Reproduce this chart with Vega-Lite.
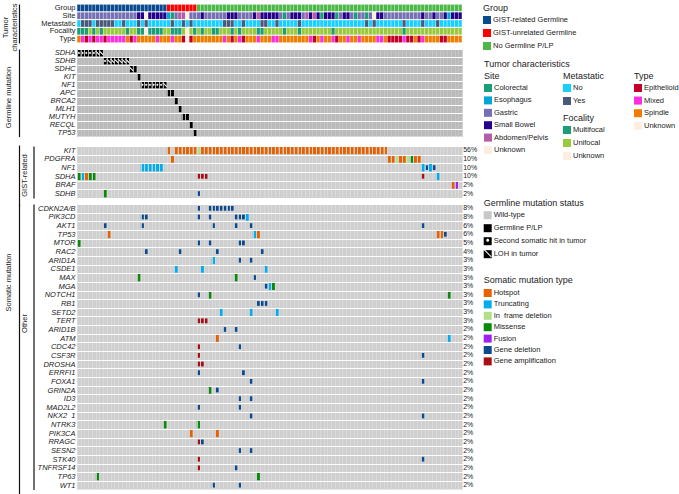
{"$schema":"https://vega.github.io/schema/vega-lite/v6.json","padding":{"left":1,"top":3,"right":0,"bottom":0},"background":"white","spacing":2.5,"bounds":"flush","resolve":{"scale":{"color":"independent","shape":"independent"},"legend":{"color":"independent","shape":"independent"}},"config":{"font":"Liberation Sans","view":{"stroke":null},"text":{"font":"Liberation Sans"},"axis":{"labelFont":"Liberation Sans","titleFont":"Liberation Sans","titleFontWeight":"normal","titleFontSize":7.5,"labelFontSize":7.5,"labelColor":"#222","titleColor":"#222"},"legend":{"orient":"none","symbolType":"square","symbolStrokeWidth":0,"symbolSize":64,"titleFontWeight":"normal","titleFontSize":9,"titleColor":"#222","labelColor":"#222","labelFontSize":7.5,"titleFont":"Liberation Sans","labelFont":"Liberation Sans","titlePadding":3,"labelLimit":200,"titleLimit":200,"labelOffset":2,"symbolOpacity":1}},
"datasets":{
"samples":[
{"s":0,"Group":"GIST-related Germline","Site":"Gastric","Metastatic":"No","Focality":"Multifocal","Type":"Spindle"},
{"s":1,"Group":"GIST-related Germline","Site":"Gastric","Metastatic":"Yes","Focality":"Multifocal","Type":"Mixed"},
{"s":2,"Group":"GIST-related Germline","Site":"Gastric","Metastatic":"Yes","Focality":"Multifocal","Type":"Epithelioid"},
{"s":3,"Group":"GIST-related Germline","Site":"Gastric","Metastatic":"Yes","Focality":"Unifocal","Type":"Mixed"},
{"s":4,"Group":"GIST-related Germline","Site":"Gastric","Metastatic":"No","Focality":"Multifocal","Type":"Epithelioid"},
{"s":5,"Group":"GIST-related Germline","Site":"Gastric","Metastatic":"Yes","Focality":"Unifocal","Type":"Mixed"},
{"s":6,"Group":"GIST-related Germline","Site":"Gastric","Metastatic":"Yes","Focality":"Multifocal","Type":"Mixed"},
{"s":7,"Group":"GIST-related Germline","Site":"Gastric","Metastatic":"Yes","Focality":"Unifocal","Type":"Epithelioid"},
{"s":8,"Group":"GIST-related Germline","Site":"Gastric","Metastatic":"Yes","Focality":"Unifocal","Type":"Mixed"},
{"s":9,"Group":"GIST-related Germline","Site":"Gastric","Metastatic":"Yes","Focality":"Unifocal","Type":"Mixed"},
{"s":10,"Group":"GIST-related Germline","Site":"Gastric","Metastatic":"No","Focality":"Unifocal","Type":"Mixed"},
{"s":11,"Group":"GIST-related Germline","Site":"Gastric","Metastatic":"No","Focality":"Unifocal","Type":"Mixed"},
{"s":12,"Group":"GIST-related Germline","Site":"Gastric","Metastatic":"Yes","Focality":"Unifocal","Type":"Mixed"},
{"s":13,"Group":"GIST-related Germline","Site":"Gastric","Metastatic":"No","Focality":"Multifocal","Type":"Spindle"},
{"s":14,"Group":"GIST-related Germline","Site":"Gastric","Metastatic":"No","Focality":"Unifocal","Type":"Epithelioid"},
{"s":15,"Group":"GIST-related Germline","Site":"Gastric","Metastatic":"No","Focality":"Unifocal","Type":"Mixed"},
{"s":16,"Group":"GIST-related Germline","Site":"Small Bowel","Metastatic":"Yes","Focality":"Multifocal","Type":"Spindle"},
{"s":17,"Group":"GIST-related Germline","Site":"Small Bowel","Metastatic":"No","Focality":"Multifocal","Type":"Spindle"},
{"s":18,"Group":"GIST-related Germline","Site":"Unknown","Metastatic":"Yes","Focality":"Unknown","Type":"Spindle"},
{"s":19,"Group":"GIST-related Germline","Site":"Small Bowel","Metastatic":"No","Focality":"Multifocal","Type":"Spindle"},
{"s":20,"Group":"GIST-related Germline","Site":"Small Bowel","Metastatic":"No","Focality":"Multifocal","Type":"Spindle"},
{"s":21,"Group":"GIST-related Germline","Site":"Small Bowel","Metastatic":"No","Focality":"Multifocal","Type":"Mixed"},
{"s":22,"Group":"GIST-related Germline","Site":"Small Bowel","Metastatic":"No","Focality":"Multifocal","Type":"Spindle"},
{"s":23,"Group":"GIST-related Germline","Site":"Small Bowel","Metastatic":"No","Focality":"Unifocal","Type":"Spindle"},
{"s":24,"Group":"GIST-unrelated Germline","Site":"Esophagus","Metastatic":"No","Focality":"Unifocal","Type":"Spindle"},
{"s":25,"Group":"GIST-unrelated Germline","Site":"Colorectal","Metastatic":"Yes","Focality":"Multifocal","Type":"Mixed"},
{"s":26,"Group":"GIST-unrelated Germline","Site":"Gastric","Metastatic":"No","Focality":"Multifocal","Type":"Spindle"},
{"s":27,"Group":"GIST-unrelated Germline","Site":"Abdomen/Pelvis","Metastatic":"No","Focality":"Multifocal","Type":"Spindle"},
{"s":28,"Group":"GIST-unrelated Germline","Site":"Abdomen/Pelvis","Metastatic":"Yes","Focality":"Unifocal","Type":"Epithelioid"},
{"s":29,"Group":"GIST-unrelated Germline","Site":"Unknown","Metastatic":"No","Focality":"Unknown","Type":"Unknown"},
{"s":30,"Group":"GIST-unrelated Germline","Site":"Gastric","Metastatic":"Yes","Focality":"Unifocal","Type":"Epithelioid"},
{"s":31,"Group":"GIST-unrelated Germline","Site":"Gastric","Metastatic":"No","Focality":"Multifocal","Type":"Spindle"},
{"s":32,"Group":"No Germline P/LP","Site":"Gastric","Metastatic":"No","Focality":"Unifocal","Type":"Spindle"},
{"s":33,"Group":"No Germline P/LP","Site":"Small Bowel","Metastatic":"No","Focality":"Multifocal","Type":"Spindle"},
{"s":34,"Group":"No Germline P/LP","Site":"Gastric","Metastatic":"No","Focality":"Unifocal","Type":"Spindle"},
{"s":35,"Group":"No Germline P/LP","Site":"Gastric","Metastatic":"No","Focality":"Unifocal","Type":"Spindle"},
{"s":36,"Group":"No Germline P/LP","Site":"Gastric","Metastatic":"No","Focality":"Multifocal","Type":"Spindle"},
{"s":37,"Group":"No Germline P/LP","Site":"Gastric","Metastatic":"No","Focality":"Multifocal","Type":"Spindle"},
{"s":38,"Group":"No Germline P/LP","Site":"Gastric","Metastatic":"No","Focality":"Unifocal","Type":"Spindle"},
{"s":39,"Group":"No Germline P/LP","Site":"Gastric","Metastatic":"Yes","Focality":"Unifocal","Type":"Mixed"},
{"s":40,"Group":"No Germline P/LP","Site":"Small Bowel","Metastatic":"Yes","Focality":"Unifocal","Type":"Spindle"},
{"s":41,"Group":"No Germline P/LP","Site":"Small Bowel","Metastatic":"Yes","Focality":"Multifocal","Type":"Epithelioid"},
{"s":42,"Group":"No Germline P/LP","Site":"Small Bowel","Metastatic":"No","Focality":"Unifocal","Type":"Spindle"},
{"s":43,"Group":"No Germline P/LP","Site":"Gastric","Metastatic":"No","Focality":"Multifocal","Type":"Mixed"},
{"s":44,"Group":"No Germline P/LP","Site":"Gastric","Metastatic":"Yes","Focality":"Unifocal","Type":"Epithelioid"},
{"s":45,"Group":"No Germline P/LP","Site":"Gastric","Metastatic":"No","Focality":"Unifocal","Type":"Spindle"},
{"s":46,"Group":"No Germline P/LP","Site":"Gastric","Metastatic":"No","Focality":"Unifocal","Type":"Spindle"},
{"s":47,"Group":"No Germline P/LP","Site":"Small Bowel","Metastatic":"No","Focality":"Unifocal","Type":"Spindle"},
{"s":48,"Group":"No Germline P/LP","Site":"Abdomen/Pelvis","Metastatic":"No","Focality":"Multifocal","Type":"Mixed"},
{"s":49,"Group":"No Germline P/LP","Site":"Small Bowel","Metastatic":"Yes","Focality":"Multifocal","Type":"Spindle"},
{"s":50,"Group":"No Germline P/LP","Site":"Small Bowel","Metastatic":"Yes","Focality":"Unifocal","Type":"Spindle"},
{"s":51,"Group":"No Germline P/LP","Site":"Small Bowel","Metastatic":"No","Focality":"Unifocal","Type":"Spindle"},
{"s":52,"Group":"No Germline P/LP","Site":"Small Bowel","Metastatic":"No","Focality":"Unifocal","Type":"Mixed"},
{"s":53,"Group":"No Germline P/LP","Site":"Small Bowel","Metastatic":"Yes","Focality":"Unifocal","Type":"Mixed"},
{"s":54,"Group":"No Germline P/LP","Site":"Gastric","Metastatic":"No","Focality":"Unifocal","Type":"Spindle"},
{"s":55,"Group":"No Germline P/LP","Site":"Colorectal","Metastatic":"No","Focality":"Multifocal","Type":"Spindle"},
{"s":56,"Group":"No Germline P/LP","Site":"Gastric","Metastatic":"No","Focality":"Unifocal","Type":"Spindle"},
{"s":57,"Group":"No Germline P/LP","Site":"Small Bowel","Metastatic":"No","Focality":"Unifocal","Type":"Spindle"},
{"s":58,"Group":"No Germline P/LP","Site":"Small Bowel","Metastatic":"No","Focality":"Unifocal","Type":"Spindle"},
{"s":59,"Group":"No Germline P/LP","Site":"Small Bowel","Metastatic":"Yes","Focality":"Multifocal","Type":"Spindle"},
{"s":60,"Group":"No Germline P/LP","Site":"Gastric","Metastatic":"No","Focality":"Unifocal","Type":"Spindle"},
{"s":61,"Group":"No Germline P/LP","Site":"Abdomen/Pelvis","Metastatic":"No","Focality":"Unifocal","Type":"Spindle"},
{"s":62,"Group":"No Germline P/LP","Site":"Small Bowel","Metastatic":"No","Focality":"Unifocal","Type":"Mixed"},
{"s":63,"Group":"No Germline P/LP","Site":"Abdomen/Pelvis","Metastatic":"No","Focality":"Unifocal","Type":"Epithelioid"},
{"s":64,"Group":"No Germline P/LP","Site":"Small Bowel","Metastatic":"No","Focality":"Unifocal","Type":"Spindle"},
{"s":65,"Group":"No Germline P/LP","Site":"Colorectal","Metastatic":"No","Focality":"Unifocal","Type":"Mixed"},
{"s":66,"Group":"No Germline P/LP","Site":"Small Bowel","Metastatic":"No","Focality":"Unifocal","Type":"Spindle"},
{"s":67,"Group":"No Germline P/LP","Site":"Small Bowel","Metastatic":"No","Focality":"Unifocal","Type":"Spindle"},
{"s":68,"Group":"No Germline P/LP","Site":"Small Bowel","Metastatic":"No","Focality":"Multifocal","Type":"Mixed"},
{"s":69,"Group":"No Germline P/LP","Site":"Colorectal","Metastatic":"No","Focality":"Unifocal","Type":"Epithelioid"},
{"s":70,"Group":"No Germline P/LP","Site":"Gastric","Metastatic":"No","Focality":"Unifocal","Type":"Spindle"},
{"s":71,"Group":"No Germline P/LP","Site":"Small Bowel","Metastatic":"No","Focality":"Unifocal","Type":"Spindle"},
{"s":72,"Group":"No Germline P/LP","Site":"Small Bowel","Metastatic":"No","Focality":"Unifocal","Type":"Mixed"},
{"s":73,"Group":"No Germline P/LP","Site":"Gastric","Metastatic":"No","Focality":"Unifocal","Type":"Spindle"},
{"s":74,"Group":"No Germline P/LP","Site":"Colorectal","Metastatic":"No","Focality":"Unifocal","Type":"Spindle"},
{"s":75,"Group":"No Germline P/LP","Site":"Gastric","Metastatic":"No","Focality":"Unifocal","Type":"Mixed"},
{"s":76,"Group":"No Germline P/LP","Site":"Gastric","Metastatic":"No","Focality":"Unifocal","Type":"Spindle"},
{"s":77,"Group":"No Germline P/LP","Site":"Colorectal","Metastatic":"Yes","Focality":"Unifocal","Type":"Spindle"},
{"s":78,"Group":"No Germline P/LP","Site":"Gastric","Metastatic":"No","Focality":"Unifocal","Type":"Spindle"},
{"s":79,"Group":"No Germline P/LP","Site":"Unknown","Metastatic":"Yes","Focality":"Unifocal","Type":"Spindle"},
{"s":80,"Group":"No Germline P/LP","Site":"Small Bowel","Metastatic":"No","Focality":"Unifocal","Type":"Mixed"},
{"s":81,"Group":"No Germline P/LP","Site":"Small Bowel","Metastatic":"No","Focality":"Unifocal","Type":"Mixed"},
{"s":82,"Group":"No Germline P/LP","Site":"Gastric","Metastatic":"No","Focality":"Unifocal","Type":"Spindle"},
{"s":83,"Group":"No Germline P/LP","Site":"Gastric","Metastatic":"No","Focality":"Unifocal","Type":"Epithelioid"},
{"s":84,"Group":"No Germline P/LP","Site":"Gastric","Metastatic":"No","Focality":"Unifocal","Type":"Epithelioid"},
{"s":85,"Group":"No Germline P/LP","Site":"Gastric","Metastatic":"No","Focality":"Unifocal","Type":"Epithelioid"},
{"s":86,"Group":"No Germline P/LP","Site":"Gastric","Metastatic":"No","Focality":"Unifocal","Type":"Epithelioid"},
{"s":87,"Group":"No Germline P/LP","Site":"Gastric","Metastatic":"Yes","Focality":"Multifocal","Type":"Mixed"},
{"s":88,"Group":"No Germline P/LP","Site":"Gastric","Metastatic":"No","Focality":"Unifocal","Type":"Epithelioid"},
{"s":89,"Group":"No Germline P/LP","Site":"Gastric","Metastatic":"No","Focality":"Unifocal","Type":"Epithelioid"},
{"s":90,"Group":"No Germline P/LP","Site":"Gastric","Metastatic":"No","Focality":"Unifocal","Type":"Spindle"},
{"s":91,"Group":"No Germline P/LP","Site":"Gastric","Metastatic":"No","Focality":"Unifocal","Type":"Epithelioid"},
{"s":92,"Group":"No Germline P/LP","Site":"Small Bowel","Metastatic":"Yes","Focality":"Unifocal","Type":"Mixed"},
{"s":93,"Group":"No Germline P/LP","Site":"Gastric","Metastatic":"No","Focality":"Unifocal","Type":"Spindle"},
{"s":94,"Group":"No Germline P/LP","Site":"Gastric","Metastatic":"No","Focality":"Unifocal","Type":"Spindle"},
{"s":95,"Group":"No Germline P/LP","Site":"Small Bowel","Metastatic":"No","Focality":"Unifocal","Type":"Spindle"},
{"s":96,"Group":"No Germline P/LP","Site":"Gastric","Metastatic":"Yes","Focality":"Unifocal","Type":"Spindle"},
{"s":97,"Group":"No Germline P/LP","Site":"Gastric","Metastatic":"No","Focality":"Unifocal","Type":"Epithelioid"},
{"s":98,"Group":"No Germline P/LP","Site":"Small Bowel","Metastatic":"No","Focality":"Unifocal","Type":"Epithelioid"},
{"s":99,"Group":"No Germline P/LP","Site":"Esophagus","Metastatic":"No","Focality":"Unifocal","Type":"Spindle"},
{"s":100,"Group":"No Germline P/LP","Site":"Small Bowel","Metastatic":"No","Focality":"Unifocal","Type":"Spindle"},
{"s":101,"Group":"No Germline P/LP","Site":"Small Bowel","Metastatic":"No","Focality":"Unifocal","Type":"Spindle"},
{"s":102,"Group":"No Germline P/LP","Site":"Small Bowel","Metastatic":"No","Focality":"Unifocal","Type":"Spindle"}
],
"germline":[
{"s":0,"g":"SDHA","t":"Second somatic hit in tumor"},{"s":1,"g":"SDHA","t":"Second somatic hit in tumor"},{"s":2,"g":"SDHA","t":"Second somatic hit in tumor"},{"s":3,"g":"SDHA","t":"Second somatic hit in tumor"},{"s":4,"g":"SDHA","t":"Second somatic hit in tumor"},{"s":5,"g":"SDHA","t":"LOH in tumor"},{"s":6,"g":"SDHA","t":"LOH in tumor"},
{"s":7,"g":"SDHB","t":"Second somatic hit in tumor"},{"s":8,"g":"SDHB","t":"LOH in tumor"},{"s":9,"g":"SDHB","t":"LOH in tumor"},{"s":10,"g":"SDHB","t":"LOH in tumor"},{"s":11,"g":"SDHB","t":"LOH in tumor"},{"s":12,"g":"SDHB","t":"LOH in tumor"},{"s":13,"g":"SDHB","t":"LOH in tumor"},
{"s":14,"g":"SDHC","t":"LOH in tumor"},{"s":15,"g":"SDHC","t":"Germline P/LP"},{"s":16,"g":"KIT","t":"Germline P/LP"},
{"s":17,"g":"NF1","t":"Second somatic hit in tumor"},{"s":18,"g":"NF1","t":"Second somatic hit in tumor"},{"s":19,"g":"NF1","t":"Second somatic hit in tumor"},{"s":20,"g":"NF1","t":"Second somatic hit in tumor"},{"s":21,"g":"NF1","t":"Second somatic hit in tumor"},{"s":22,"g":"NF1","t":"Second somatic hit in tumor"},{"s":23,"g":"NF1","t":"LOH in tumor"},
{"s":24,"g":"APC","t":"Germline P/LP"},{"s":25,"g":"APC","t":"Germline P/LP"},{"s":26,"g":"BRCA2","t":"Germline P/LP"},{"s":27,"g":"MLH1","t":"Germline P/LP"},{"s":28,"g":"MUTYH","t":"Germline P/LP"},{"s":29,"g":"MUTYH","t":"Germline P/LP"},{"s":30,"g":"RECQL","t":"Germline P/LP"},{"s":31,"g":"TP53","t":"Germline P/LP"}
],
"gistRows":[{"g":"KIT","p":"56%"},{"g":"PDGFRA","p":"10%"},{"g":"NF1","p":"10%"},{"g":"SDHA","p":"10%"},{"g":"BRAF","p":"2%"},{"g":"SDHB","p":"2%"}],
"otherRows":[{"g":"CDKN2A/B","p":"8%"},{"g":"PIK3CD","p":"8%"},{"g":"AKT1","p":"6%"},{"g":"TP53","p":"6%"},{"g":"MTOR","p":"5%"},{"g":"RAC2","p":"4%"},{"g":"ARID1A","p":"3%"},{"g":"CSDE1","p":"3%"},{"g":"MAX","p":"3%"},{"g":"MGA","p":"3%"},{"g":"NOTCH1","p":"3%"},{"g":"RB1","p":"3%"},{"g":"SETD2","p":"3%"},{"g":"TERT","p":"3%"},{"g":"ARID1B","p":"2%"},{"g":"ATM","p":"2%"},{"g":"CDC42","p":"2%"},{"g":"CSF3R","p":"2%"},{"g":"DROSHA","p":"2%"},{"g":"ERRFI1","p":"2%"},{"g":"FOXA1","p":"2%"},{"g":"GRIN2A","p":"2%"},{"g":"ID3","p":"2%"},{"g":"MAD2L2","p":"2%"},{"g":"NKX2\u00a0\u00a01","p":"2%"},{"g":"NTRK3","p":"2%"},{"g":"PIK3CA","p":"2%"},{"g":"RRAGC","p":"2%"},{"g":"SESN2","p":"2%"},{"g":"STK40","p":"2%"},{"g":"TNFRSF14","p":"2%"},{"g":"TP63","p":"2%"},{"g":"WT1","p":"2%"}],
"gist":[
{"s":24,"g":"KIT","t":"Hotspot"},{"s":26,"g":"KIT","t":"Hotspot"},{"s":27,"g":"KIT","t":"Hotspot"},{"s":28,"g":"KIT","t":"Hotspot"},{"s":29,"g":"KIT","t":"Hotspot"},{"s":30,"g":"KIT","t":"Hotspot"},{"s":31,"g":"KIT","t":"Hotspot"},{"s":32,"g":"KIT","t":"In\u00a0\u00a0frame deletion"},{"s":33,"g":"KIT","t":"Hotspot"},{"s":34,"g":"KIT","t":"Hotspot"},{"s":35,"g":"KIT","t":"Hotspot"},{"s":36,"g":"KIT","t":"Hotspot"},{"s":37,"g":"KIT","t":"Hotspot"},{"s":38,"g":"KIT","t":"Hotspot"},{"s":39,"g":"KIT","t":"Hotspot"},{"s":40,"g":"KIT","t":"Hotspot"},{"s":41,"g":"KIT","t":"Hotspot"},{"s":42,"g":"KIT","t":"Hotspot"},{"s":43,"g":"KIT","t":"Hotspot"},{"s":44,"g":"KIT","t":"Hotspot"},{"s":45,"g":"KIT","t":"Hotspot"},{"s":46,"g":"KIT","t":"Hotspot"},{"s":47,"g":"KIT","t":"Hotspot"},{"s":48,"g":"KIT","t":"Hotspot"},{"s":49,"g":"KIT","t":"Hotspot"},{"s":50,"g":"KIT","t":"Hotspot"},{"s":51,"g":"KIT","t":"Hotspot"},{"s":52,"g":"KIT","t":"Hotspot"},{"s":53,"g":"KIT","t":"Hotspot"},{"s":54,"g":"KIT","t":"Hotspot"},{"s":55,"g":"KIT","t":"Hotspot"},{"s":56,"g":"KIT","t":"Hotspot"},{"s":57,"g":"KIT","t":"Hotspot"},{"s":58,"g":"KIT","t":"Hotspot"},{"s":59,"g":"KIT","t":"Hotspot"},{"s":60,"g":"KIT","t":"Hotspot"},{"s":61,"g":"KIT","t":"Hotspot"},{"s":62,"g":"KIT","t":"Hotspot"},{"s":63,"g":"KIT","t":"Hotspot"},{"s":64,"g":"KIT","t":"Hotspot"},{"s":65,"g":"KIT","t":"Hotspot"},{"s":66,"g":"KIT","t":"Hotspot"},{"s":67,"g":"KIT","t":"Hotspot"},{"s":68,"g":"KIT","t":"Hotspot"},{"s":69,"g":"KIT","t":"Hotspot"},{"s":70,"g":"KIT","t":"Hotspot"},{"s":71,"g":"KIT","t":"Hotspot"},{"s":72,"g":"KIT","t":"Hotspot"},{"s":73,"g":"KIT","t":"Hotspot"},{"s":74,"g":"KIT","t":"Hotspot"},{"s":75,"g":"KIT","t":"Hotspot"},{"s":76,"g":"KIT","t":"Hotspot"},{"s":77,"g":"KIT","t":"Hotspot"},{"s":78,"g":"KIT","t":"Hotspot"},{"s":79,"g":"KIT","t":"Hotspot"},{"s":80,"g":"KIT","t":"Hotspot"},{"s":81,"g":"KIT","t":"Hotspot"},{"s":82,"g":"KIT","t":"Hotspot"},
{"s":25,"g":"PDGFRA","t":"Hotspot"},{"s":83,"g":"PDGFRA","t":"Hotspot"},{"s":84,"g":"PDGFRA","t":"Hotspot"},{"s":85,"g":"PDGFRA","t":"In\u00a0\u00a0frame deletion"},{"s":86,"g":"PDGFRA","t":"Hotspot"},{"s":87,"g":"PDGFRA","t":"Hotspot"},{"s":88,"g":"PDGFRA","t":"In\u00a0\u00a0frame deletion"},{"s":89,"g":"PDGFRA","t":"Missense"},{"s":90,"g":"PDGFRA","t":"Hotspot"},{"s":91,"g":"PDGFRA","t":"Hotspot"},
{"s":17,"g":"NF1","t":"Truncating"},{"s":18,"g":"NF1","t":"Truncating"},{"s":19,"g":"NF1","t":"Truncating"},{"s":20,"g":"NF1","t":"Truncating"},{"s":21,"g":"NF1","t":"Truncating"},{"s":22,"g":"NF1","t":"Truncating"},{"s":92,"g":"NF1","t":"Truncating"},{"s":93,"g":"NF1","t":"Gene deletion"},{"s":94,"g":"NF1","t":"Truncating"},{"s":95,"g":"NF1","t":"Gene deletion"},
{"s":0,"g":"SDHA","t":"Missense"},{"s":1,"g":"SDHA","t":"Truncating"},{"s":2,"g":"SDHA","t":"Hotspot"},{"s":3,"g":"SDHA","t":"Missense"},{"s":4,"g":"SDHA","t":"Missense"},{"s":32,"g":"SDHA","t":"Gene amplification"},{"s":33,"g":"SDHA","t":"Gene amplification"},{"s":34,"g":"SDHA","t":"Gene amplification"},{"s":92,"g":"SDHA","t":"Gene amplification"},{"s":96,"g":"SDHA","t":"Truncating"},
{"s":100,"g":"BRAF","t":"Hotspot"},{"s":101,"g":"BRAF","t":"Fusion"},{"s":7,"g":"SDHB","t":"Missense"},{"s":32,"g":"SDHB","t":"Gene deletion"}
],
"other":[
{"s":32,"g":"CDKN2A/B","t":"Gene deletion"},{"s":35,"g":"CDKN2A/B","t":"Gene deletion"},{"s":36,"g":"CDKN2A/B","t":"Gene deletion"},{"s":37,"g":"CDKN2A/B","t":"Gene deletion"},{"s":38,"g":"CDKN2A/B","t":"Gene deletion"},{"s":39,"g":"CDKN2A/B","t":"Gene deletion"},{"s":40,"g":"CDKN2A/B","t":"Gene deletion"},{"s":41,"g":"CDKN2A/B","t":"Gene deletion"},
{"s":17,"g":"PIK3CD","t":"Gene deletion"},{"s":18,"g":"PIK3CD","t":"Gene deletion"},{"s":32,"g":"PIK3CD","t":"Gene deletion"},{"s":35,"g":"PIK3CD","t":"Gene deletion"},{"s":42,"g":"PIK3CD","t":"Gene deletion"},{"s":43,"g":"PIK3CD","t":"Gene deletion"},{"s":44,"g":"PIK3CD","t":"Gene deletion"},{"s":45,"g":"PIK3CD","t":"Truncating"},
{"s":7,"g":"AKT1","t":"Gene deletion"},{"s":17,"g":"AKT1","t":"Gene deletion"},{"s":36,"g":"AKT1","t":"Gene deletion"},{"s":42,"g":"AKT1","t":"Gene deletion"},{"s":46,"g":"AKT1","t":"Gene deletion"},{"s":92,"g":"AKT1","t":"Gene deletion"},
{"s":8,"g":"TP53","t":"Hotspot"},{"s":47,"g":"TP53","t":"Truncating"},{"s":48,"g":"TP53","t":"Hotspot"},{"s":96,"g":"TP53","t":"Hotspot"},{"s":97,"g":"TP53","t":"Hotspot"},{"s":98,"g":"TP53","t":"Gene deletion"},
{"s":0,"g":"MTOR","t":"Missense"},{"s":32,"g":"MTOR","t":"Gene deletion"},{"s":35,"g":"MTOR","t":"Gene deletion"},{"s":43,"g":"MTOR","t":"Gene deletion"},{"s":44,"g":"MTOR","t":"Gene deletion"},
{"s":18,"g":"RAC2","t":"Gene deletion"},{"s":27,"g":"RAC2","t":"Gene deletion"},{"s":37,"g":"RAC2","t":"Gene deletion"},{"s":49,"g":"RAC2","t":"Gene deletion"},
{"s":36,"g":"ARID1A","t":"Truncating"},{"s":43,"g":"ARID1A","t":"Gene deletion"},{"s":46,"g":"ARID1A","t":"Gene deletion"},
{"s":26,"g":"CSDE1","t":"Truncating"},{"s":33,"g":"CSDE1","t":"Truncating"},{"s":50,"g":"CSDE1","t":"Truncating"},
{"s":16,"g":"MAX","t":"Missense"},{"s":42,"g":"MAX","t":"Missense"},{"s":47,"g":"MAX","t":"Gene deletion"},
{"s":50,"g":"MGA","t":"Gene deletion"},{"s":51,"g":"MGA","t":"Truncating"},{"s":52,"g":"MGA","t":"Missense"},
{"s":32,"g":"NOTCH1","t":"Gene deletion"},{"s":35,"g":"NOTCH1","t":"Missense"},{"s":99,"g":"NOTCH1","t":"Missense"},
{"s":48,"g":"RB1","t":"Gene deletion"},{"s":49,"g":"RB1","t":"Gene deletion"},{"s":50,"g":"RB1","t":"Gene deletion"},
{"s":38,"g":"SETD2","t":"Truncating"},{"s":46,"g":"SETD2","t":"Truncating"},{"s":53,"g":"SETD2","t":"Truncating"},
{"s":32,"g":"TERT","t":"Gene amplification"},{"s":33,"g":"TERT","t":"Gene amplification"},{"s":34,"g":"TERT","t":"Gene amplification"},
{"s":39,"g":"ARID1B","t":"Gene deletion"},{"s":42,"g":"ARID1B","t":"Gene deletion"},
{"s":37,"g":"ATM","t":"Hotspot"},{"s":99,"g":"ATM","t":"Truncating"},
{"s":32,"g":"CDC42","t":"Gene amplification"},{"s":43,"g":"CDC42","t":"Gene deletion"},
{"s":32,"g":"CSF3R","t":"Gene amplification"},{"s":92,"g":"CSF3R","t":"Gene deletion"},
{"s":32,"g":"DROSHA","t":"Gene amplification"},{"s":33,"g":"DROSHA","t":"Gene amplification"},
{"s":32,"g":"ERRFI1","t":"Gene deletion"},{"s":44,"g":"ERRFI1","t":"Gene deletion"},
{"s":46,"g":"FOXA1","t":"Gene deletion"},{"s":92,"g":"FOXA1","t":"Gene deletion"},
{"s":35,"g":"GRIN2A","t":"Missense"},{"s":37,"g":"GRIN2A","t":"Gene deletion"},
{"s":43,"g":"ID3","t":"Gene deletion"},{"s":46,"g":"ID3","t":"Gene deletion"},
{"s":32,"g":"MAD2L2","t":"Gene deletion"},{"s":43,"g":"MAD2L2","t":"Gene deletion"},
{"s":46,"g":"NKX2\u00a0\u00a01","t":"Gene deletion"},{"s":92,"g":"NKX2\u00a0\u00a01","t":"Gene deletion"},
{"s":23,"g":"NTRK3","t":"Missense"},{"s":32,"g":"NTRK3","t":"Missense"},
{"s":30,"g":"PIK3CA","t":"Hotspot"},{"s":37,"g":"PIK3CA","t":"Hotspot"},
{"s":32,"g":"RRAGC","t":"Gene amplification"},{"s":33,"g":"RRAGC","t":"Gene deletion"},
{"s":43,"g":"SESN2","t":"Gene deletion"},{"s":46,"g":"SESN2","t":"Gene deletion"},
{"s":32,"g":"STK40","t":"Gene amplification"},{"s":92,"g":"STK40","t":"Gene deletion"},
{"s":32,"g":"TNFRSF14","t":"Gene amplification"},{"s":42,"g":"TNFRSF14","t":"Gene deletion"},
{"s":5,"g":"TP63","t":"Missense"},{"s":48,"g":"TP63","t":"Missense"},
{"s":36,"g":"WT1","t":"Gene deletion"},{"s":43,"g":"WT1","t":"Gene deletion"}
]
},
"vconcat":[
{"width":385,"height":39,"data":{"name":"samples"},
"encoding":{"x":{"field":"s","type":"ordinal","scale":{"paddingInner":0,"paddingOuter":0,"domain":[0,1,2,3,4,5,6,7,8,9,10,11,12,13,14,15,16,17,18,19,20,21,22,23,24,25,26,27,28,29,30,31,32,33,34,35,36,37,38,39,40,41,42,43,44,45,46,47,48,49,50,51,52,53,54,55,56,57,58,59,60,61,62,63,64,65,66,67,68,69,70,71,72,73,74,75,76,77,78,79,80,81,82,83,84,85,86,87,88,89,90,91,92,93,94,95,96,97,98,99,100,101,102]},"axis":null}},
"layer":[
{"mark":{"type":"rect","width":{"band":0.88},"height":{"band":0.86}},"encoding":{"y":{"datum":"Group","type":"nominal","scale":{"domain":["Group","Site","Metastatic","Focality","Type"],"paddingInner":0,"paddingOuter":0},"axis":{"title":["Tumor","characteristics"],"titleX":-10,"titleY":23,"titleAngle":-90,"titleLineHeight":9,"offset":58,"labelPadding":-56,"ticks":false,"tickSize":0,"domain":true,"domainColor":"#111","domainWidth":1.2,"labelBound":false,"labelFlush":false}},"color":{"field":"Group","type":"nominal","scale":{"domain":["GIST-related Germline","GIST-unrelated Germline","No Germline P/LP"],"range":["#0b4a8f","#ff0000","#4cb848"]},"legend":{"title":"Group","legendX":406,"legendY":0,"rowPadding":5}}}},
{"mark":{"type":"rect","width":{"band":0.88},"height":{"band":0.86}},"encoding":{"y":{"datum":"Site","type":"nominal"},"color":{"field":"Site","type":"nominal","scale":{"domain":["Colorectal","Esophagus","Gastric","Small Bowel","Abdomen/Pelvis","Unknown"],"range":["#1b9e77","#00a6d6","#7570b3","#24008c","#b35ca8","#fdeee0"]},"legend":{"title":["Tumor characteristics","Site"],"titleLineHeight":12,"legendX":407,"legendY":56,"rowPadding":4.4}}}},
{"mark":{"type":"rect","width":{"band":0.88},"height":{"band":0.86}},"encoding":{"y":{"datum":"Metastatic","type":"nominal"},"color":{"field":"Metastatic","type":"nominal","scale":{"domain":["No","Yes"],"range":["#19cfff","#475a7a"]},"legend":{"title":"Metastatic","legendX":486,"legendY":68,"rowPadding":5}}}},
{"mark":{"type":"rect","width":{"band":0.88},"height":{"band":0.86}},"encoding":{"y":{"datum":"Focality","type":"nominal"},"color":{"field":"Focality","type":"nominal","scale":{"domain":["Multifocal","Unifocal","Unknown"],"range":["#1b9e77","#99c93c","#fdeee0"]},"legend":{"title":"Focality","legendX":486,"legendY":110,"rowPadding":5}}}},
{"mark":{"type":"rect","width":{"band":0.88},"height":{"band":0.86}},"encoding":{"y":{"datum":"Type","type":"nominal"},"color":{"field":"Type","type":"nominal","scale":{"domain":["Epithelioid","Mixed","Spindle","Unknown"],"range":["#c2002a","#ff2de0","#f07d00","#fdeee0"]},"legend":{"title":"Type","legendX":557,"legendY":68,"rowPadding":4.6}}}}
],"resolve":{"scale":{"color":"independent"},"legend":{"color":"independent"}}},
{"width":385,"height":0.5,"data":{"values":[{"a":1}]},"mark":{"type":"point","opacity":0},"encoding":{}},
{"width":385,"height":87.6,"view":{"fill":"#bababa","stroke":null},"data":{"name":"germline"},
"encoding":{"x":{"field":"s","type":"ordinal","scale":{"paddingInner":0,"paddingOuter":0,"domain":[0,1,2,3,4,5,6,7,8,9,10,11,12,13,14,15,16,17,18,19,20,21,22,23,24,25,26,27,28,29,30,31,32,33,34,35,36,37,38,39,40,41,42,43,44,45,46,47,48,49,50,51,52,53,54,55,56,57,58,59,60,61,62,63,64,65,66,67,68,69,70,71,72,73,74,75,76,77,78,79,80,81,82,83,84,85,86,87,88,89,90,91,92,93,94,95,96,97,98,99,100,101,102]},"axis":{"title":null,"labels":false,"ticks":false,"domain":false,"grid":true,"tickBand":"extent","gridColor":"#c9c9c9","gridWidth":0.8}},
"y":{"field":"g","type":"nominal","scale":{"domain":["SDHA","SDHB","SDHC","KIT","NF1","APC","BRCA2","MLH1","MUTYH","RECQL","TP53"],"paddingInner":0,"paddingOuter":0},"axis":{"title":"Germline mutation","titleX":-7,"titleY":48,"titleAngle":-90,"offset":58,"labelPadding":-56,"ticks":false,"tickSize":0,"domain":true,"domainColor":"#111","domainWidth":1.2,"labelFontStyle":"italic","labelBound":false,"labelFlush":false,"grid":true,"tickBand":"extent","gridColor":"white","gridWidth":1.1}}},
"layer":[
{"mark":{"type":"rect","width":{"band":0.88},"height":{"band":0.86}},"encoding":{"color":{"field":"t","type":"nominal","scale":{"domain":["Wild-type","Germline P/LP","Second somatic hit in tumor","LOH in tumor"],"range":["#c8c8c8","#000000","#000000","#000000"]},"legend":{"title":"Germline mutation status","legendX":406.7,"legendY":150.2,"rowPadding":5}}}},
{"transform":[{"filter":"datum.t !== 'Germline P/LP'"}],"mark":{"type":"point","filled":true,"color":"white","stroke":"white","strokeWidth":0.7,"opacity":1,"size":16},"encoding":{"shape":{"field":"t","type":"nominal","scale":{"domain":["Second somatic hit in tumor","LOH in tumor"],"range":["M-0.38,0A0.38,0.38,0,1,1,0.38,0A0.38,0.38,0,1,1,-0.38,0Z","M-1,-0.82L-0.82,-1L1,0.82L0.82,1Z"]},"legend":{"title":null,"labelExpr":"''","legendX":406.7,"legendY":187.2,"rowPadding":5,"symbolFillColor":"white","symbolStrokeColor":"white","symbolStrokeWidth":0}}}}
]},
{"width":385,"height":3.6,"data":{"values":[{"a":1}]},"mark":{"type":"point","opacity":0},"encoding":{}},
{"width":385,"height":51.9,"view":{"fill":"#cfcfcf","stroke":null},
"layer":[
{"encoding":{"x":{"field":"s","type":"ordinal","scale":{"paddingInner":0,"paddingOuter":0,"domain":[0,1,2,3,4,5,6,7,8,9,10,11,12,13,14,15,16,17,18,19,20,21,22,23,24,25,26,27,28,29,30,31,32,33,34,35,36,37,38,39,40,41,42,43,44,45,46,47,48,49,50,51,52,53,54,55,56,57,58,59,60,61,62,63,64,65,66,67,68,69,70,71,72,73,74,75,76,77,78,79,80,81,82,83,84,85,86,87,88,89,90,91,92,93,94,95,96,97,98,99,100,101,102]},"axis":{"title":null,"labels":false,"ticks":false,"domain":false,"grid":true,"tickBand":"extent","gridColor":"#dddddd","gridWidth":0.8}},
"y":{"field":"g","type":"nominal","scale":{"domain":["KIT","PDGFRA","NF1","SDHA","BRAF","SDHB"],"paddingInner":0,"paddingOuter":0},"axis":{"title":"GIST-related","titleX":-5.5,"titleY":29,"titleAngle":-90,"offset":43.5,"labelPadding":-41.5,"ticks":false,"tickSize":0,"domain":true,"domainColor":"#111","domainWidth":1.2,"labelFontStyle":"italic","labelBound":false,"labelFlush":false,"grid":true,"tickBand":"extent","gridColor":"white","gridWidth":1.1}}},
"layer":[
{"data":{"name":"gist"},"transform":[{"filter":"!(datum.t === 'Gene deletion' || datum.t === 'Gene amplification')"}],"mark":{"type":"rect","width":{"band":0.88},"height":{"band":0.88}},"encoding":{"color":{"field":"t","type":"nominal","scale":{"domain":["Hotspot","Truncating","In\u00a0\u00a0frame deletion","Missense","Fusion","Gene deletion","Gene amplification"],"range":["#e66101","#00aeef","#b2df8a","#0a8a0a","#a020f0","#0b4a8f","#a50f15"]},"legend":{"title":"Somatic mutation type","legendX":406.7,"legendY":130,"rowPadding":3.4,"titlePadding":4}}}},
{"data":{"name":"gist"},"transform":[{"filter":"datum.t === 'Gene deletion' || datum.t === 'Gene amplification'"}],"mark":{"type":"rect","width":{"band":0.8},"height":{"band":0.55}},"encoding":{"color":{"field":"t","type":"nominal"}}},
{"data":{"name":"gistRows"},"mark":{"type":"text","align":"left","dx":3,"fontSize":7,"fill":"#222"},"encoding":{"x":{"datum":102,"type":"ordinal"},"text":{"field":"p"}}}
]},
{"data":{"name":"gistRows"},"mark":{"type":"point","opacity":0},"encoding":{"y":{"field":"g","type":"nominal","scale":{"type":"band","domain":["KIT","PDGFRA","NF1","SDHA","BRAF","SDHB"],"range":[-1,60]},"axis":{"orient":"left","title":null,"labels":false,"offset":58,"ticks":false,"tickSize":0,"domain":true,"domainColor":"#111","domainWidth":1.2,"grid":false}}}}
],"resolve":{"scale":{"y":"independent"},"axis":{"y":"independent"}}},
{"width":385,"height":0.7,"data":{"values":[{"a":1}]},"mark":{"type":"point","opacity":0},"encoding":{}},
{"width":385,"height":285.5,"view":{"fill":"#cfcfcf","stroke":null},
"layer":[
{"encoding":{"x":{"field":"s","type":"ordinal","scale":{"paddingInner":0,"paddingOuter":0,"domain":[0,1,2,3,4,5,6,7,8,9,10,11,12,13,14,15,16,17,18,19,20,21,22,23,24,25,26,27,28,29,30,31,32,33,34,35,36,37,38,39,40,41,42,43,44,45,46,47,48,49,50,51,52,53,54,55,56,57,58,59,60,61,62,63,64,65,66,67,68,69,70,71,72,73,74,75,76,77,78,79,80,81,82,83,84,85,86,87,88,89,90,91,92,93,94,95,96,97,98,99,100,101,102]},"axis":{"title":null,"labels":false,"ticks":false,"domain":false,"grid":true,"tickBand":"extent","gridColor":"#dddddd","gridWidth":0.8}},
"y":{"field":"g","type":"nominal","scale":{"domain":["CDKN2A/B","PIK3CD","AKT1","TP53","MTOR","RAC2","ARID1A","CSDE1","MAX","MGA","NOTCH1","RB1","SETD2","TERT","ARID1B","ATM","CDC42","CSF3R","DROSHA","ERRFI1","FOXA1","GRIN2A","ID3","MAD2L2","NKX2\u00a0\u00a01","NTRK3","PIK3CA","RRAGC","SESN2","STK40","TNFRSF14","TP63","WT1"],"paddingInner":0,"paddingOuter":0},"axis":{"title":"Other","titleX":-5.5,"titleY":119,"titleAngle":-90,"offset":43.5,"labelPadding":-41.5,"ticks":false,"tickSize":0,"domain":true,"domainColor":"#111","domainWidth":1.2,"labelFontStyle":"italic","labelBound":false,"labelFlush":false,"grid":true,"tickBand":"extent","gridColor":"white","gridWidth":1.1}}},
"layer":[
{"data":{"name":"other"},"transform":[{"filter":"!(datum.t === 'Gene deletion' || datum.t === 'Gene amplification')"}],"mark":{"type":"rect","width":{"band":0.88},"height":{"band":0.88}},"encoding":{"color":{"field":"t","type":"nominal","scale":{"domain":["Hotspot","Truncating","In\u00a0\u00a0frame deletion","Missense","Fusion","Gene deletion","Gene amplification"],"range":["#e66101","#00aeef","#b2df8a","#0a8a0a","#a020f0","#0b4a8f","#a50f15"]},"legend":null}}},
{"data":{"name":"other"},"transform":[{"filter":"datum.t === 'Gene deletion' || datum.t === 'Gene amplification'"}],"mark":{"type":"rect","width":{"band":0.8},"height":{"band":0.55}},"encoding":{"color":{"field":"t","type":"nominal","legend":null}}},
{"data":{"name":"otherRows"},"mark":{"type":"text","align":"left","dx":3,"fontSize":7,"fill":"#222"},"encoding":{"x":{"datum":102,"type":"ordinal"},"text":{"field":"p"}}}
]},
{"data":{"name":"otherRows"},"mark":{"type":"point","opacity":0},"encoding":{"y":{"field":"g","type":"nominal","scale":{"type":"band","domain":["CDKN2A/B","PIK3CD"],"range":[0,290]},"axis":{"orient":"left","title":"Somatic mutation","values":[],"labels":false,"titleX":-7,"titleY":78,"titleAngle":-90,"offset":58,"ticks":false,"tickSize":0,"domain":true,"domainColor":"#111","domainWidth":1.2,"grid":false}}}}
],"resolve":{"scale":{"y":"independent"},"axis":{"y":"independent"}}}
]}
